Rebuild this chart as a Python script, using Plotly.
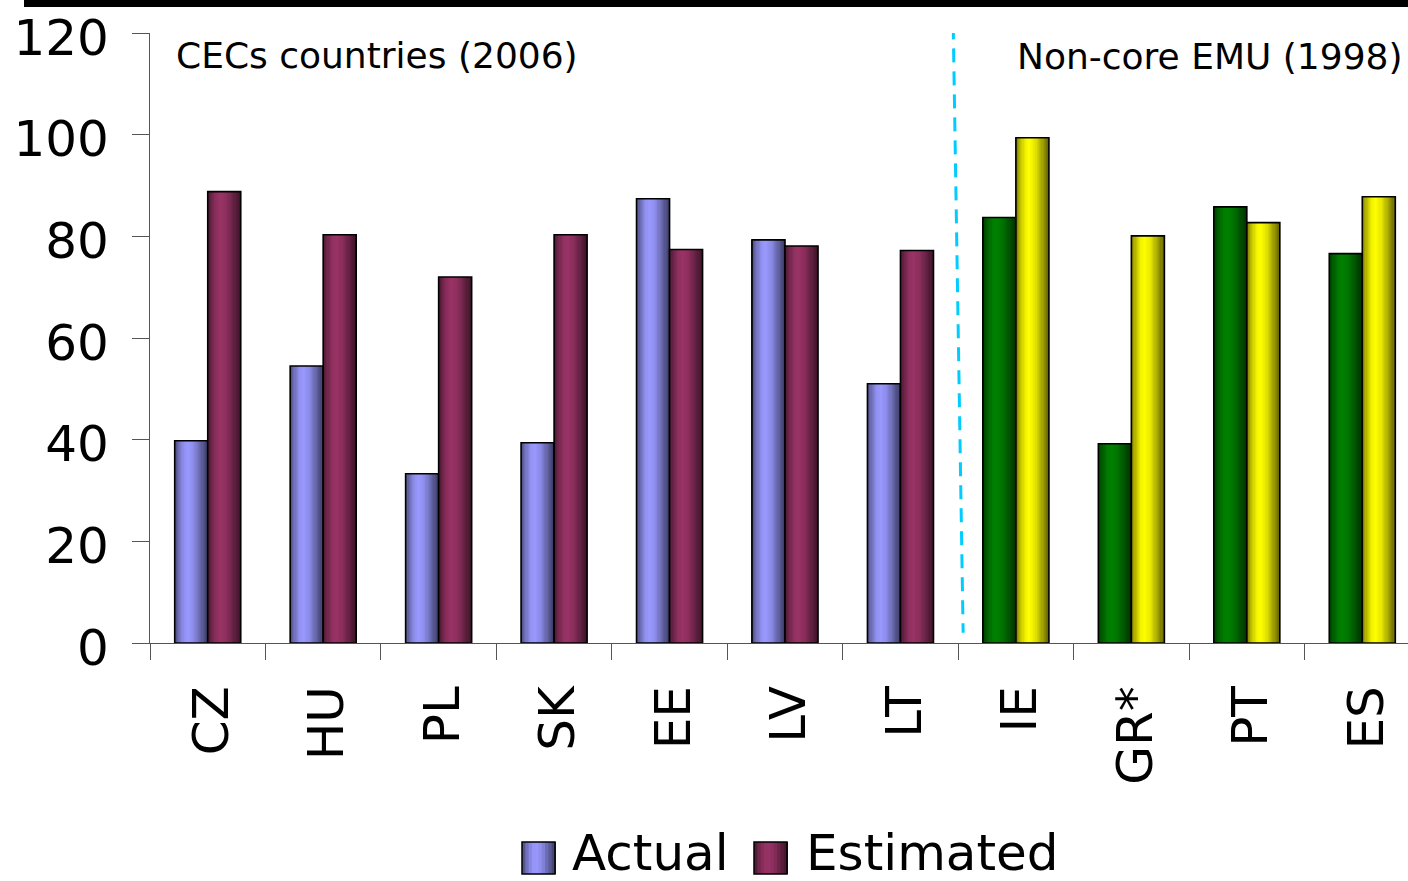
import plotly.graph_objects as go

# Countries and values
countries = ["CZ", "HU", "PL", "SK", "EE", "LV", "LT", "IE", "GR*", "PT", "ES"]
actual = [39.8, 54.5, 33.3, 39.4, 87.4, 79.3, 51.0, 83.7, 39.2, 85.8, 76.6]
estimated = [88.8, 80.3, 72.0, 80.3, 77.4, 78.1, 77.2, 99.4, 80.1, 82.7, 87.8]
n_cec = 7  # first group: CEC countries, rest: non-core EMU

# Base colours per group
actual_cols = [(153, 153, 255)] * n_cec + [(0, 128, 0)] * (len(countries) - n_cec)
est_cols = [(153, 51, 102)] * n_cec + [(255, 255, 0)] * (len(countries) - n_cec)

FONT = "DejaVu Sans"
BAR_W = 0.286   # width of one bar in category units
N_STRIPS = 28   # strips used for the cylinder shading


def shade(t):
    # brightness profile across a bar (0 = left edge, 1 = right edge)
    pts = [(0.0, 0.45), (0.12, 0.7), (0.3, 0.95), (0.42, 1.0), (0.6, 0.9),
           (0.8, 0.65), (1.0, 0.4)]
    for (t0, v0), (t1, v1) in zip(pts, pts[1:]):
        if t0 <= t <= t1:
            return v0 + (v1 - v0) * (t - t0) / (t1 - t0)
    return 1.0


def rgb(c, f):
    return "rgb({},{},{})".format(*(int(round(v * f)) for v in c))


fig = go.Figure()

for vals, cols, base_off, name in [
    (actual, actual_cols, -BAR_W, "Actual"),
    (estimated, est_cols, 0.0, "Estimated"),
]:
    sw = BAR_W / N_STRIPS
    for i in range(N_STRIPS):
        f = shade((i + 0.5) / N_STRIPS)
        w = sw * 1.6 if i < N_STRIPS - 1 else sw
        fig.add_trace(go.Bar(
            x=countries, y=vals,
            offset=base_off + i * sw, width=w,
            marker=dict(color=[rgb(c, f) for c in cols], line=dict(width=0)),
            showlegend=False, hoverinfo="skip",
        ))
    # outline
    fig.add_trace(go.Bar(
        x=countries, y=vals, offset=base_off, width=BAR_W, name=name,
        marker=dict(color="rgba(0,0,0,0)", line=dict(color="black", width=1.6)),
        showlegend=False,
    ))

# plot geometry (pixels)
W, H = 1408, 881
L, T, B = 150, 33, 238
pw, ph = W - L, H - T - B


def px(x):
    return (x - L) / pw


def py(y):
    return (H - B - y) / ph


shapes = [
    # heavy rule along the top
    dict(type="rect", xref="paper", yref="paper", x0=px(24), x1=px(1408),
         y0=py(7), y1=py(0), fillcolor="black", line=dict(width=0)),
    # divider between the two groups
    dict(type="line", xref="x", yref="y", x0=6.457, x1=6.543, y0=121.5, y1=2,
         line=dict(color="#00CCFF", width=3, dash="14px,9px")),
]

# hand-built legend with large swatches
legend_items = [("Actual", (153, 153, 255), 522, 570), ("Estimated", (153, 51, 102), 754, 804)]
annotations = []
for label, col, x0, tx in legend_items:
    sw_w, n = 33, 10
    y_top, y_bot = 842, 874
    for i in range(n):
        f = shade((i + 0.5) / n)
        shapes.append(dict(type="rect", xref="paper", yref="paper",
                           x0=px(x0 + i * sw_w / n), x1=px(x0 + (i + 1.3) * sw_w / n),
                           y0=py(y_bot), y1=py(y_top), fillcolor=rgb(col, f), line=dict(width=0)))
    shapes.append(dict(type="rect", xref="paper", yref="paper",
                       x0=px(x0), x1=px(x0 + sw_w), y0=py(y_bot), y1=py(y_top),
                       line=dict(color="black", width=1.5)))
    annotations.append(dict(text=label, xref="paper", yref="paper", x=px(tx),
                            y=py(853), xanchor="left", yanchor="middle", showarrow=False,
                            font=dict(family=FONT, size=50, color="black")))

annotations += [
    dict(text="CECs countries (2006)", xref="paper", yref="paper", x=px(174), y=py(55),
         xanchor="left", yanchor="middle", showarrow=False,
         font=dict(family=FONT, size=36, color="black")),
    dict(text="Non-core EMU (1998)", xref="paper", yref="paper", x=px(1015), y=py(57),
         xanchor="left", yanchor="middle", showarrow=False,
         font=dict(family=FONT, size=36, color="black")),
]

fig.update_layout(
    width=W, height=H,
    margin=dict(l=L, r=0, t=T, b=B, pad=0),
    paper_bgcolor="white", plot_bgcolor="white",
    barmode="overlay",
    showlegend=False,
    shapes=shapes, annotations=annotations,
    font=dict(family=FONT, color="black"),
    xaxis=dict(
        type="category", range=[-0.5, 10.396], tickson="boundaries",
        ticks="outside", ticklen=16, tickcolor="#555", tickwidth=1.3,
        showline=True, linecolor="#555", linewidth=1.3, showgrid=False,
        tickangle=-90, tickfont=dict(family=FONT, size=50, color="black"),
        ticklabelstandoff=22, ticklabelshift=4,
    ),
    yaxis=dict(
        range=[0, 120], tickvals=[0, 20, 40, 60, 80, 100, 120],
        ticks="outside", ticklen=17, tickcolor="#555", tickwidth=1.3,
        showline=True, linecolor="#555", linewidth=1.3, showgrid=False, zeroline=False,
        tickfont=dict(family=FONT, size=50, color="black"), ticklabelstandoff=13,
        ticklabelshift=4,
    ),
)

fig.write_html("out.html")
